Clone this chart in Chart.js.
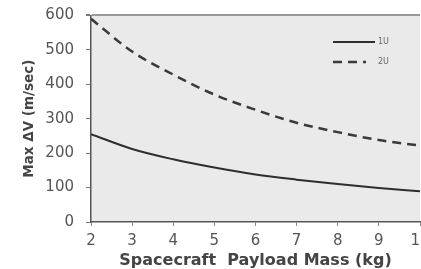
<!DOCTYPE html>
<html>
<head>
<meta charset="utf-8">
<script src="https://cdn.jsdelivr.net/npm/chart.js@4/dist/chart.umd.min.js"></script>
<style>
  html, body { margin: 0; padding: 0; background: #ffffff; overflow: hidden; }
  #wrap { width: 440px; height: 269px; position: relative; }
</style>
</head>
<body>
<div id="wrap"><canvas id="c"></canvas></div>
<script>
const payloadMass = [2, 3, 4, 5, 6, 7, 8, 9, 10];
const deltaV1U = [255, 212, 182, 158, 138, 123, 110, 99, 89];
const deltaV2U = [590, 495, 428, 370, 326, 288, 261, 238, 222];
const seriesNames = ['1U', '2U'];
const xTitle = 'Spacecraft  Payload Mass (kg)';
const yTitle = 'Max \u0394V (m/sec)';

const FONT = '"DejaVu Sans", Verdana, sans-serif';

const plotBg = {
  id: 'plotBg',
  beforeDraw(chart) {
    const a = chart.chartArea, ctx = chart.ctx;
    ctx.save();
    ctx.fillStyle = '#eaeaea';
    ctx.fillRect(a.left, a.top, a.right - a.left, a.bottom - a.top);
    ctx.restore();
  }
};

const innerLegend = {
  id: 'innerLegend',
  afterDatasetsDraw(chart) {
    const ctx = chart.ctx;
    const x0 = 333, x1 = 375;
    const ys = [42, 62];
    chart.data.datasets.forEach((ds, i) => {
      ctx.save();
      ctx.strokeStyle = ds.borderColor;
      ctx.lineWidth = ds.borderWidth;
      ctx.setLineDash(ds.borderDash || []);
      ctx.beginPath();
      ctx.moveTo(x0, ys[i]);
      ctx.lineTo(i === 0 ? x1 : 366, ys[i]);
      ctx.stroke();
      ctx.setLineDash([]);
      ctx.fillStyle = '#666';
      ctx.font = '8px ' + FONT;
      ctx.textBaseline = 'middle';
      ctx.fillText(ds.label, 378, ys[i]);
      ctx.restore();
    });
  }
};

new Chart(document.getElementById('c'), {
  type: 'line',
  data: {
    datasets: [
      {
        label: seriesNames[0],
        data: payloadMass.map((m, i) => ({ x: m, y: deltaV1U[i] })),
        borderColor: '#2e2e2e',
        borderWidth: 2,
        pointRadius: 0,
        tension: 0.4,
        cubicInterpolationMode: 'monotone',
        fill: false
      },
      {
        label: seriesNames[1],
        data: payloadMass.map((m, i) => ({ x: m, y: deltaV2U[i] })),
        borderColor: '#3a3a3a',
        borderWidth: 2.5,
        borderDash: [9, 6],
        pointRadius: 0,
        tension: 0.4,
        cubicInterpolationMode: 'monotone',
        fill: false
      }
    ]
  },
  options: {
    responsive: true,
    maintainAspectRatio: false,
    animation: false,
    layout: { padding: { left: 0, right: 20, top: 0, bottom: 0 } },
    plugins: { legend: { display: false }, tooltip: { enabled: false } },
    scales: {
      x: {
        type: 'linear',
        min: 2, max: 10,
        afterFit(scale) { scale.height = 47; },
        ticks: {
          stepSize: 1,
          color: '#555',
          font: { family: FONT, size: 15 },
          padding: 6
        },
        grid: {
          color: 'rgba(0,0,0,0)',
          tickColor: '#888',
          tickLength: 4,
          drawOnChartArea: false
        },
        border: { color: '#555', width: 1.5 },
        title: {
          display: true,
          text: xTitle,
          color: '#444',
          font: { family: FONT, size: 16, weight: 'bold', lineHeight: 1.0 },
          padding: { top: 0, bottom: 0 }
        }
      },
      y: {
        min: 0, max: 600,
        afterFit(scale) { scale.width = 91; },
        ticks: {
          stepSize: 100,
          color: '#555',
          font: { family: FONT, size: 15, lineHeight: 0.45 },
          padding: 12
        },
        grid: {
          color: (c) => (c.tick && c.tick.value === 600 ? '#9a9a9a' : 'rgba(0,0,0,0)'),
          lineWidth: (c) => (c.tick && c.tick.value === 600 ? 2 : 1),
          tickColor: '#777',
          tickLength: 5
        },
        border: { color: '#555', width: 1.5 },
        title: {
          display: true,
          text: yTitle,
          color: '#444',
          font: { family: FONT, size: 13.5, weight: 'bold', lineHeight: 1.2 },
          padding: { top: 21, bottom: 0 }
        }
      }
    }
  },
  plugins: [plotBg, innerLegend]
});
</script>
</body>
</html>
